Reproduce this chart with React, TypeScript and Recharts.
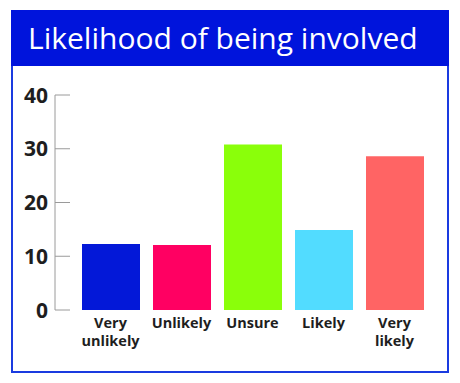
import { BarChart, Bar, XAxis, YAxis, Cell } from "recharts";

const categories = ["Very unlikely", "Unlikely", "Unsure", "Likely", "Very likely"];
const values = [12.3, 12.1, 30.8, 14.9, 28.6];
const barColors = ["#0318D8", "#FF0062", "#8AFF0A", "#52DCFF", "#FF6464"];
const yTicks = [0, 10, 20, 30, 40];

const data = categories.map((name, i) => ({ name, value: values[i] }));

const FONT = "'Open Sans', sans-serif";

function YTick(props: any) {
  const { y, payload } = props;
  return (
    <g>
      <line x1={55} x2={70} y1={y} y2={y} stroke="#9A9A9A" strokeWidth={1} />
      <text
        x={48}
        y={y}
        dy="0.36em"
        textAnchor="end"
        fontFamily={FONT}
        fontWeight={700}
        fontSize={21}
        fill="#1E1E1E"
      >
        {payload.value}
      </text>
    </g>
  );
}

function XTick(props: any) {
  const { x, payload } = props;
  const words: string[] = payload.value.split(" ");
  const lines = words.length > 1 ? [words[0], words.slice(1).join(" ")] : words;
  return (
    <text
      x={x}
      y={323}
      textAnchor="middle"
      fontFamily={FONT}
      fontWeight={700}
      fontSize={14.5}
      fill="#1E1E1E"
    >
      {lines.map((l, i) => (
        <tspan key={i} x={x} dy={i === 0 ? "0.36em" : 18}>
          {l}
        </tspan>
      ))}
    </text>
  );
}

export default function App() {
  return (
    <div style={{ position: "absolute", left: 0, top: 0, width: 460, height: 383, background: "#fff" }}>
      <div
        style={{
          position: "absolute",
          left: 11,
          top: 10,
          width: 434,
          height: 359,
          border: "2px solid #1A3BE0",
          background: "#fff",
        }}
      />
      <div
        style={{
          position: "absolute",
          left: 11,
          top: 10,
          width: 438,
          height: 56,
          background: "#0014DC",
          color: "#fff",
          fontFamily: FONT,
          fontSize: 30,
          lineHeight: "56px",
          paddingLeft: 17,
          boxSizing: "border-box",
          whiteSpace: "nowrap",
        }}
      >
        Likelihood of being involved
      </div>
      <div style={{ position: "absolute", left: 0, top: 0 }}>
        <BarChart
          width={460}
          height={383}
          data={data}
          margin={{ top: 95, right: 30, bottom: 13, left: 0 }}
        >
          <XAxis
            dataKey="name"
            axisLine={false}
            tickLine={false}
            padding={{ left: 20, right: 0 }}
            height={60}
            interval={0}
            tick={<XTick />}
          />
          <YAxis
            domain={[0, 40]}
            ticks={yTicks}
            width={55}
            axisLine={{ stroke: "#9A9A9A", strokeWidth: 1 }}
            tickLine={false}
            tick={<YTick />}
            interval={0}
          />
          <Bar dataKey="value" barSize={58} isAnimationActive={false}>
            {data.map((d, i) => (
              <Cell key={d.name} fill={barColors[i]} />
            ))}
          </Bar>
        </BarChart>
      </div>
    </div>
  );
}
